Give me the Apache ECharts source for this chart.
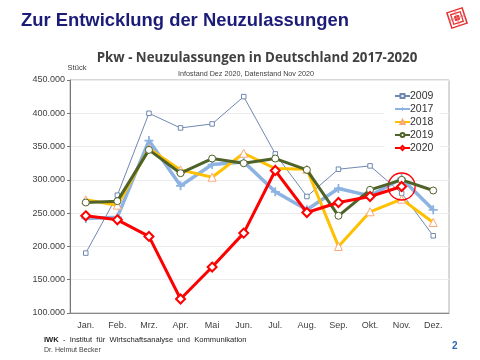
<!DOCTYPE html>
<html><head><meta charset="utf-8">
<script src="https://cdn.jsdelivr.net/npm/echarts@6/dist/echarts.min.js"></script>
<style>html,body{margin:0;padding:0;background:#fff}#c{width:480px;height:360px}</style>
</head><body><div id="c"></div>
<script>
const months = ['Jan.','Feb.','Mrz.','Apr.','Mai','Jun.','Jul.','Aug.','Sep.','Okt.','Nov.','Dez.'];
const s2009 = [190000,277000,400000,378000,384000,425000,339000,275000,316000,321000,280000,216000];
const s2017 = [242000,244000,359000,291000,323000,327000,282000,255000,287000,276000,302000,255000];
const s2018 = [270000,262000,347000,315000,304000,340000,317000,316000,200000,252000,271000,236000];
const s2019 = [266000,268000,345000,310000,332000,325000,332000,315000,246000,285000,300000,284000];
const s2020 = [246000,240000,215000,121000,169000,220000,314000,251000,266000,275000,290000,null];
const highlightMonth = 'Nov.';
const highlightValue = 290000;

const fmt = v => String(v).replace(/\B(?=(\d{3})+(?!\d))/g, '.');
const plusPath = 'path://M4,0H6V4H10V6H6V10H4V6H0V4H4Z';

const chart = echarts.init(document.getElementById('c'), null, {renderer:'canvas'});
chart.setOption({
  backgroundColor:'#fff',
  animation:false,
  title:[
    {text:'Zur Entwicklung der Neuzulassungen', left:16, top:7,
     textStyle:{fontFamily:'Liberation Sans, Arial', fontWeight:'bold', fontSize:18.4, color:'#1b1b78'}},
    {text:'Pkw - Neuzulassungen in Deutschland 2017-2020', left:252, top:47, textAlign:'center',
     textStyle:{fontFamily:'Open Sans', fontWeight:'bold', fontSize:13.3, color:'#404040'}},
    {text:'Infostand Dez 2020, Datenstand Nov 2020', left:241, top:66, textAlign:'center',
     textStyle:{fontFamily:'Liberation Sans, Arial', fontWeight:'normal', fontSize:7.2, color:'#404040'}},
    {text:'Stück', left:72, top:59, textAlign:'center',
     textStyle:{fontFamily:'Liberation Sans, Arial', fontWeight:'normal', fontSize:7.5, color:'#404040'}}
  ],
  grid:{left:70, right:31, top:80, bottom:47, show:true, borderColor:'#b0b0b0', borderWidth:1},
  legend:{
    orient:'vertical', left:384, top:88, backgroundColor:'#fff',
    padding:[2,6,4,10], itemWidth:15, itemHeight:5, itemGap:1,
    textStyle:{fontFamily:'Liberation Sans, Arial', fontSize:10.5, lineHeight:12, color:'#333', padding:[0,0,0,-5]},
    data:['2009','2017','2018','2019','2020']
  },
  xAxis:{
    type:'category', data:months, boundaryGap:true,
    axisLine:{lineStyle:{color:'#888'}},
    axisTick:{length:4, lineStyle:{color:'#888'}},
    axisLabel:{fontFamily:'Liberation Sans, Arial', fontSize:9, color:'#404040', margin:8}
  },
  yAxis:{
    type:'value', min:100000, max:450000, interval:50000,
    axisLine:{show:true, lineStyle:{color:'#777'}},
    axisTick:{show:true, length:3, lineStyle:{color:'#777'}},
    splitLine:{lineStyle:{color:'#ececec'}},
    axisLabel:{formatter:fmt, fontFamily:'Liberation Sans, Arial', fontSize:9, color:'#404040', margin:5}
  },
  series:[
    {name:'2009', type:'line', data:s2009, z:2,
     lineStyle:{width:1, color:'#7088b0'}, itemStyle:{color:'#fff', borderColor:'#7088b0', borderWidth:1},
     symbol:'rect', symbolSize:4.5, showAllSymbol:true},
    {name:'2017', type:'line', data:s2017, z:3,
     lineStyle:{width:3.5, color:'#8db3e2'}, itemStyle:{color:'#8db3e2', borderColor:'#8db3e2', borderWidth:0},
     symbol:plusPath, symbolSize:9},
    {name:'2018', type:'line', data:s2018, z:4,
     lineStyle:{width:3, color:'#ffc000'}, itemStyle:{color:'#fff', borderColor:'#f8a878', borderWidth:1},
     symbol:'triangle', symbolSize:8},
    {name:'2019', type:'line', data:s2019, z:5,
     lineStyle:{width:3, color:'#4f6228'}, itemStyle:{color:'#fff', borderColor:'#4f6228', borderWidth:1},
     symbol:'circle', symbolSize:7},
    {name:'2020', type:'line', data:s2020, z:6,
     lineStyle:{width:3, color:'#ff0000'}, itemStyle:{color:'#fff', borderColor:'#ff0000', borderWidth:2},
     symbol:'diamond', symbolSize:9,
     markPoint:{symbol:'circle', symbolSize:27, label:{show:false},
       itemStyle:{color:'rgba(0,0,0,0)', borderColor:'#ff0000', borderWidth:1.3},
       data:[{coord:[highlightMonth, highlightValue]}]}}
  ],
  graphic:[
    {type:'group', x:457, y:18, rotation:Math.PI/10, children:[
      {type:'rect', shape:{x:-8,y:-8,width:16,height:16}, style:{fill:'#fff', stroke:'#e83030', lineWidth:1.5}},
      {type:'rect', shape:{x:-5,y:-5,width:10,height:10}, style:{fill:'none', stroke:'#e83030', lineWidth:1.3}},
      {type:'rect', shape:{x:-2,y:-2,width:4,height:4}, style:{fill:'#e83030', stroke:'#e83030', lineWidth:1}},
      {type:'line', shape:{x1:-8,y1:0,x2:8,y2:0}, style:{stroke:'#f07070', lineWidth:1}},
      {type:'line', shape:{x1:0,y1:-8,x2:0,y2:8}, style:{stroke:'#f07070', lineWidth:1}}
    ]},
    {type:'text', left:44, top:336, style:{
      text:'{b|IWK}  -  Institut  für  Wirtschaftsanalyse  und  Kommunikation',
      fontFamily:'Liberation Sans, Arial', fontSize:7.6, fill:'#222',
      rich:{b:{fontWeight:'bold', fontSize:7.6, fontFamily:'Liberation Sans, Arial', fill:'#222'}}}},
    {type:'text', left:44, top:347, style:{text:'Dr. Helmut Becker', fontFamily:'Liberation Sans, Arial', fontSize:7, fill:'#444'}},
    {type:'text', left:452, top:341, style:{text:'2', fontFamily:'Liberation Sans, Arial', fontWeight:'bold', fontSize:10, fill:'#2a6ab4'}}
  ]
});
</script></body></html>
